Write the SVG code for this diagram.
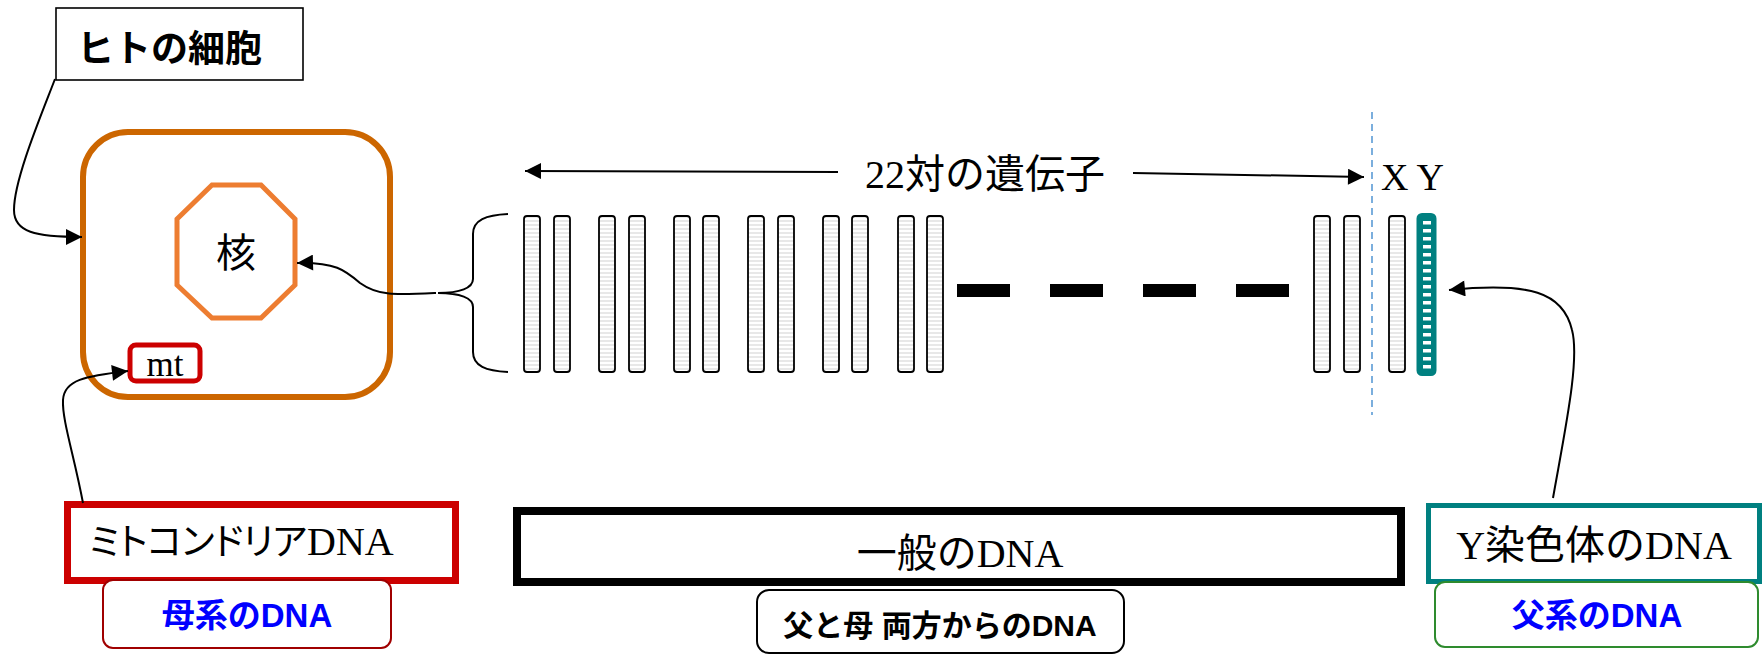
<svg xmlns="http://www.w3.org/2000/svg" width="1762" height="654" viewBox="0 0 1762 654">
<style>
.sans{font-family:"Noto Sans CJK JP","Liberation Sans",sans-serif;}
.mix{font-family:"Liberation Serif","Noto Sans CJK JP",serif;font-size:40px;fill:#000;}
.blue{font-family:"Liberation Sans","Noto Sans CJK JP",sans-serif;font-weight:bold;font-size:33px;fill:#0000FF;}
.chr{fill:url(#stripes);stroke:#000;stroke-width:1.8;}
.conn{fill:none;stroke:#000;stroke-width:2;}
</style>
<defs>
<pattern id="stripes" patternUnits="userSpaceOnUse" width="16" height="4">
<rect width="16" height="4" fill="#ffffff"/>
<rect width="16" height="2" fill="#e8e8e8"/>
</pattern>
<marker id="arr" viewBox="0 0 10 10" refX="10" refY="5" markerUnits="userSpaceOnUse" markerWidth="18" markerHeight="16" orient="auto">
<path d="M0,0 L10,5 L0,10 z" fill="#000"/>
</marker>
</defs>
<rect width="1762" height="654" fill="#fff"/>

<g id="cell-label">
<rect x="56" y="8" width="247" height="72" fill="#fff" stroke="#000" stroke-width="1.6"/>
<text x="77" y="62" class="sans" font-size="37" font-weight="bold">ヒトの細胞</text>
</g>

<g id="cell">
<rect x="83" y="132" width="307" height="265" rx="45" ry="45" fill="#fff" stroke="#CC6600" stroke-width="6"/>
</g>

<g id="nucleus">
<polygon points="212,185 261,185 295,219 295,285 261,318 212,318 177,285 177,219" fill="#fff" stroke="#ED7D31" stroke-width="5"/>
<text x="236" y="267" class="sans" font-size="40" text-anchor="middle">核</text>
</g>

<g id="mt">
<rect x="130" y="345" width="70" height="36" rx="6" ry="6" fill="#fff" stroke="#CC0000" stroke-width="5"/>
<text x="165" y="376" font-family="Liberation Serif,serif" font-size="35" text-anchor="middle">mt</text>
</g>

<g id="chromosomes">
<rect class="chr" x="524" y="216" width="16" height="156" rx="3"/>
<rect class="chr" x="554" y="216" width="16" height="156" rx="3"/>
<rect class="chr" x="599" y="216" width="16" height="156" rx="3"/>
<rect class="chr" x="629" y="216" width="16" height="156" rx="3"/>
<rect class="chr" x="674" y="216" width="16" height="156" rx="3"/>
<rect class="chr" x="703" y="216" width="16" height="156" rx="3"/>
<rect class="chr" x="748" y="216" width="16" height="156" rx="3"/>
<rect class="chr" x="778" y="216" width="16" height="156" rx="3"/>
<rect class="chr" x="823" y="216" width="16" height="156" rx="3"/>
<rect class="chr" x="852" y="216" width="16" height="156" rx="3"/>
<rect class="chr" x="898" y="216" width="16" height="156" rx="3"/>
<rect class="chr" x="927" y="216" width="16" height="156" rx="3"/>
<rect x="957" y="284" width="53" height="13" fill="#000"/>
<rect x="1050" y="284" width="53" height="13" fill="#000"/>
<rect x="1143" y="284" width="53" height="13" fill="#000"/>
<rect x="1236" y="284" width="53" height="13" fill="#000"/>
<rect class="chr" x="1314" y="216" width="16" height="156" rx="3"/>
<rect class="chr" x="1344" y="216" width="16" height="156" rx="3"/>
<rect class="chr" x="1389" y="216" width="16" height="156" rx="3"/>
</g>

<g id="y-chromosome">
<rect x="1418" y="214.5" width="17" height="160" rx="4" fill="#008080" stroke="#008080" stroke-width="3"/>
<g fill="#fff">
<rect x="1423" y="221" width="8" height="3.5"/><rect x="1423" y="229" width="8" height="3.5"/><rect x="1423" y="237" width="8" height="3.5"/><rect x="1423" y="245" width="8" height="3.5"/><rect x="1423" y="253" width="8" height="3.5"/><rect x="1423" y="261" width="8" height="3.5"/><rect x="1423" y="269" width="8" height="3.5"/><rect x="1423" y="277" width="8" height="3.5"/><rect x="1423" y="285" width="8" height="3.5"/><rect x="1423" y="293" width="8" height="3.5"/><rect x="1423" y="301" width="8" height="3.5"/><rect x="1423" y="309" width="8" height="3.5"/><rect x="1423" y="317" width="8" height="3.5"/><rect x="1423" y="325" width="8" height="3.5"/><rect x="1423" y="333" width="8" height="3.5"/><rect x="1423" y="341" width="8" height="3.5"/><rect x="1423" y="349" width="8" height="3.5"/><rect x="1423" y="357" width="8" height="3.5"/><rect x="1423" y="365" width="8" height="3.5"/>
</g>
</g>

<g id="divider">
<line x1="1372" y1="112" x2="1372" y2="415" stroke="#5B9BD5" stroke-width="1.6" stroke-dasharray="7,5"/>
</g>

<g id="pairs-label">
<text x="985" y="188" class="mix" text-anchor="middle">22対の遺伝子</text>
</g>

<g id="xy-label">
<text x="1381" y="190" font-family="Liberation Serif,serif" font-size="38">X Y</text>
</g>

<g id="brace">
<path class="conn" d="M508 214 C486 215 473 220 473 234 L473 279 C473 288 460 293 438 293 C460 293 473 298 473 307 L473 352 C473 366 486 371 508 372"/>
</g>

<g id="mito-dna">
<rect x="67.5" y="504.5" width="388" height="76" fill="#fff" stroke="#CC0000" stroke-width="7"/>
<text x="89" y="555" class="mix"><tspan font-size="37" letter-spacing="-0.5" style="font-feature-settings:'palt'">ミトコンドリア</tspan><tspan x="307">DNA</tspan></text>
</g>

<g id="maternal">
<rect x="103" y="580" width="288" height="68" rx="10" ry="10" fill="#fff" stroke="#A00000" stroke-width="2"/>
<text x="247" y="627" class="blue" text-anchor="middle">母系のDNA</text>
</g>

<g id="general-dna">
<rect x="517" y="511" width="884" height="71" fill="#fff" stroke="#000" stroke-width="8"/>
<text x="960" y="567" class="mix" text-anchor="middle">一般のDNA</text>
</g>

<g id="both-parents">
<rect x="757" y="590" width="367" height="63" rx="12" ry="12" fill="#fff" stroke="#000" stroke-width="2"/>
<text x="940" y="636" font-family="Liberation Sans,'Noto Sans CJK JP',sans-serif" font-weight="bold" font-size="30" text-anchor="middle">父と母 両方からのDNA</text>
</g>

<g id="y-dna">
<rect x="1428.5" y="505.5" width="331" height="76" fill="#fff" stroke="#008080" stroke-width="5"/>
<text x="1594" y="559" class="mix" text-anchor="middle">Y染色体のDNA</text>
</g>

<g id="paternal">
<rect x="1435" y="582" width="323" height="65" rx="10" ry="10" fill="#fff" stroke="#2E8B2E" stroke-width="2"/>
<text x="1597" y="627" class="blue" text-anchor="middle">父系のDNA</text>
</g>

<g id="connectors">
<path class="conn" marker-end="url(#arr)" d="M55 79 C40 118 14 180 14 210 C14 232 35 237 82 237"/>
<path class="conn" marker-end="url(#arr)" d="M436 293 C395 295 378 296 360 283 C345 270 335 262 297 263"/>
<path class="conn" marker-end="url(#arr)" d="M83 503 C74 455 62 420 63 400 C64 380 85 376 128 371"/>
<path class="conn" marker-end="url(#arr)" d="M1553 498 C1565 430 1580 360 1572 330 C1563 292 1530 282 1449 290"/>
<path class="conn" marker-end="url(#arr)" d="M838 172 L525 171"/>
<path class="conn" marker-end="url(#arr)" d="M1133 173 L1364 177"/>
</g>
</svg>
